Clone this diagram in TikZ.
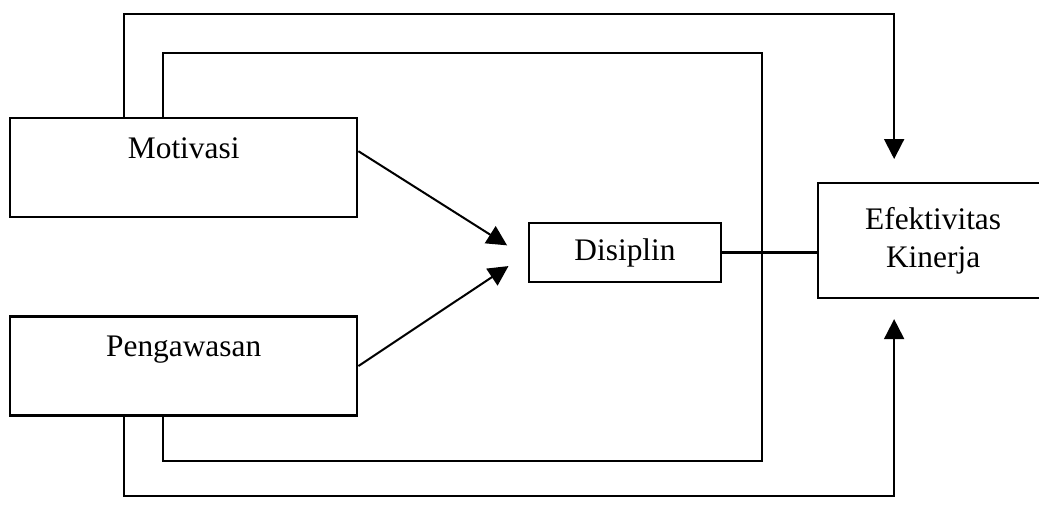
\documentclass[tikz,border=0pt]{standalone}
\usepackage{fontspec}
\setmainfont{Liberation Serif}
\usetikzlibrary{positioning, arrows.meta}

\begin{document}
\begin{tikzpicture}[
        font=\fontsize{12.5pt}{15pt}\selectfont,
        line width=0.8pt,
        factor/.style={rectangle, draw, line width=0.9pt, minimum width=4.86cm, inner sep=0.14cm, text height=0.42cm, text depth=0.686cm},
        mediator/.style={rectangle, draw, line width=0.9pt, minimum width=2.69cm, minimum height=0.83cm},
        outcome/.style={rectangle, draw, line width=0.9pt, minimum width=3.22cm, minimum height=1.61cm, align=center},
        link/.style={-{Triangle[length=0.28cm, width=0.28cm]}}
    ]
        \useasboundingbox (0,0) rectangle (14.546,7.07);

        \node[factor, anchor=north west] (MOT) at (0.126,5.432) {Motivasi};
        \node[factor, below=1.36cm of MOT] (PENG) {Pengawasan};
        \node[mediator] (DIS) at (8.75,3.535) {Disiplin};
        \node[outcome, anchor=west] (EFF) at (11.438,3.703) {Efektivitas\\Kinerja};

        % arrow ends that stop short of the boxes
        \coordinate (DISIN1) at ([xshift=-0.29cm, yshift=0.1cm]DIS.west);
        \coordinate (DISIN2) at ([xshift=-0.27cm, yshift=-0.19cm]DIS.west);
        \coordinate (EFFTOP) at ([xshift=1.08cm, yshift=0.32cm]EFF.north west);
        \coordinate (EFFBOT) at ([xshift=1.08cm, yshift=-0.28cm]EFF.south west);

        \draw[link] ([yshift=0.23cm]MOT.east) -- (DISIN1);
        \draw[link] (PENG.east) -- (DISIN2);
        \draw (DIS.east) -- (DIS.east -| EFF.west);

        % inner loop between the two factors
        \draw ([xshift=2.16cm]MOT.north west) |- (10.67,6.33) -- (10.67,0.62) -| ([xshift=2.16cm]PENG.south west);

        % outer lines into Efektivitas Kinerja
        \draw[link] ([xshift=1.61cm]MOT.north west) |- (EFFTOP |- 0,6.87) -- (EFFTOP);
        \draw[link] ([xshift=1.61cm]PENG.south west) |- (EFFBOT |- 0,0.12) -- (EFFBOT);
    \end{tikzpicture}
\end{document}
